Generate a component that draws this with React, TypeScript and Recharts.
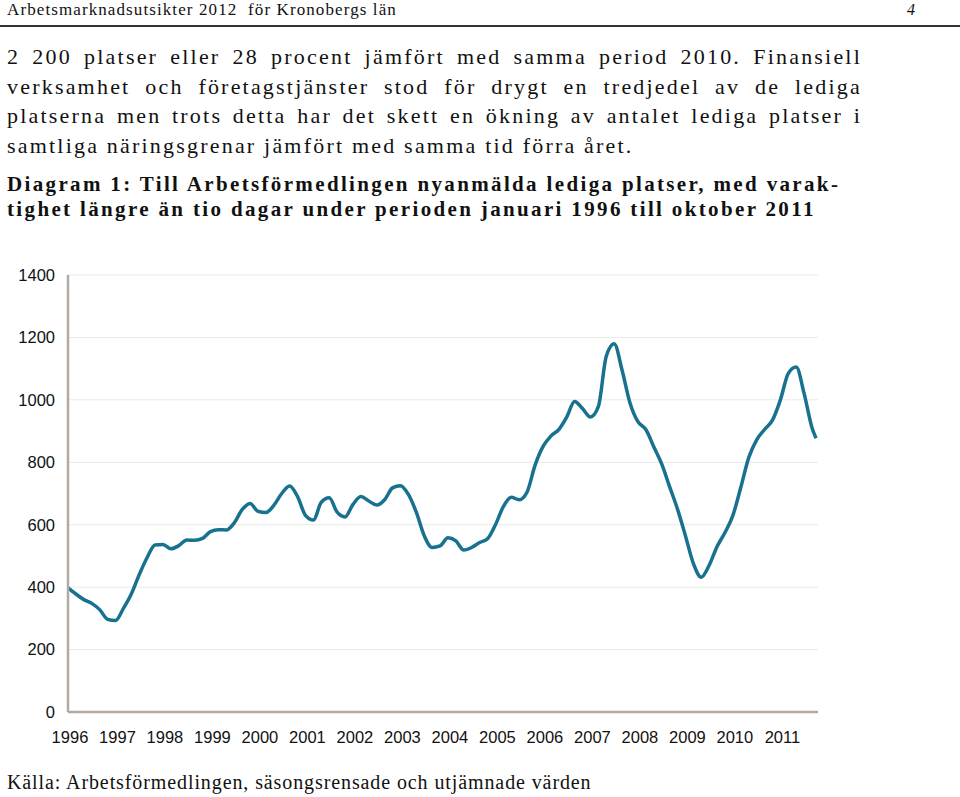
import { LineChart, Line, XAxis, YAxis, CartesianGrid } from 'recharts';

// bimonthly readings, Jan 1996 .. Oct 2011
const periods = [
  '1996-01', '1996-03', '1996-05', '1996-07', '1996-09', '1996-11',
  '1997-01', '1997-03', '1997-05', '1997-07', '1997-09', '1997-11',
  '1998-01', '1998-03', '1998-05', '1998-07', '1998-09', '1998-11',
  '1999-01', '1999-03', '1999-05', '1999-07', '1999-09', '1999-11',
  '2000-01', '2000-03', '2000-05', '2000-07', '2000-09', '2000-11',
  '2001-01', '2001-03', '2001-05', '2001-07', '2001-09', '2001-11',
  '2002-01', '2002-03', '2002-05', '2002-07', '2002-09', '2002-11',
  '2003-01', '2003-03', '2003-05', '2003-07', '2003-09', '2003-11',
  '2004-01', '2004-03', '2004-05', '2004-07', '2004-09', '2004-11',
  '2005-01', '2005-03', '2005-05', '2005-07', '2005-09', '2005-11',
  '2006-01', '2006-03', '2006-05', '2006-07', '2006-09', '2006-11',
  '2007-01', '2007-03', '2007-05', '2007-07', '2007-09', '2007-11',
  '2008-01', '2008-03', '2008-05', '2008-07', '2008-09', '2008-11',
  '2009-01', '2009-03', '2009-05', '2009-07', '2009-09', '2009-11',
  '2010-01', '2010-03', '2010-05', '2010-07', '2010-09', '2010-11',
  '2011-01', '2011-03', '2011-05', '2011-07', '2011-09', '2011-10',
];

const vacancies = [
  398, 378, 360, 348, 328, 297,
  293, 332, 378, 440, 495, 535,
  537, 523, 533, 551, 550, 556,
  578, 584, 583, 606, 648, 668,
  643, 639, 662, 700, 724, 690,
  630, 615, 672, 686, 640, 625,
  665, 690, 676, 663, 680, 718,
  725, 697, 640, 565, 527, 532,
  558, 548, 519, 527, 543, 555,
  600, 658, 688, 680, 705, 790,
  850, 884, 905, 945, 995, 972,
  945, 978, 1140, 1180, 1095, 990,
  930, 905, 850, 795, 722, 650,
  565, 476, 432, 470, 530, 575,
  630, 720, 815, 872, 905, 935,
  1000, 1085, 1105, 1020, 910, 877,
];

const years = [1996, 1997, 1998, 1999, 2000, 2001, 2002, 2003, 2004, 2005, 2006, 2007, 2008, 2009, 2010, 2011];
const yTicks = [0, 200, 400, 600, 800, 1000, 1200, 1400];

const paragraph = [
  '2 200 platser eller 28 procent jämfört med samma period 2010. Finansiell',
  'verksamhet och företagstjänster stod för drygt en tredjedel av de lediga',
  'platserna men trots detta har det skett en ökning av antalet lediga platser i',
];
const paragraphLast = 'samtliga näringsgrenar jämfört med samma tid förra året.';
const caption = [
  'Diagram 1: Till Arbetsförmedlingen nyanmälda lediga platser, med varak-',
  'tighet längre än tio dagar under perioden januari 1996 till oktober 2011',
];

const data = periods.map((p, i) => {
  const [y, m] = p.split('-').map(Number);
  return { t: (y - 1996) * 12 + (m - 1), value: vacancies[i] };
});

const serif = '"Liberation Serif", serif';
const sans = '"Liberation Sans", Arial, sans-serif';
const axisColor = '#b2aaa2';

export default function App() {
  return (
    <div style={{ position: 'absolute', left: 0, top: 0, width: 960, height: 797, background: '#fff', color: '#111', fontFamily: serif, overflow: 'hidden' }}>
      <div style={{ position: 'absolute', left: 7, top: 0, fontSize: 17, lineHeight: '20px', letterSpacing: 1.1 }}>
        Arbetsmarknadsutsikter 2012&nbsp; för Kronobergs län
      </div>
      <div style={{ position: 'absolute', left: 907, top: 0, fontSize: 16, lineHeight: '20px', fontStyle: 'italic' }}>4</div>
      <div style={{ position: 'absolute', left: 0, top: 25, width: 960, height: 2, background: '#333' }} />

      <div style={{ position: 'absolute', left: 7, top: 42, width: 855, fontSize: 22, lineHeight: '29.7px', letterSpacing: 2.2 }}>
        {paragraph.map((line) => (
          <div key={line} style={{ textAlign: 'justify', textAlignLast: 'justify' }}>{line}</div>
        ))}
        <div>{paragraphLast}</div>
      </div>

      <div style={{ position: 'absolute', left: 7, top: 172, fontSize: 21, lineHeight: '25px', fontWeight: 'bold', letterSpacing: 2.35 }}>
        {caption.map((line) => (
          <div key={line}>{line}</div>
        ))}
      </div>

      <div style={{ position: 'absolute', left: 0, top: 265 }}>
        <LineChart width={828} height={487} data={data} margin={{ top: 10, right: 10, bottom: 0, left: 8 }}>
          <CartesianGrid horizontal vertical={false} stroke="#e9e9e9" strokeWidth={1} />
          <XAxis
            dataKey="t"
            type="number"
            domain={[0, 189.5]}
            ticks={years.map((y) => (y - 1996) * 12 + 0.5)}
            tickFormatter={(v: number) => String(1996 + Math.floor(v / 12))}
            interval={0}
            tickLine={false}
            tickMargin={13}
            height={40}
            axisLine={{ stroke: axisColor, strokeWidth: 2.5 }}
            tick={{ fill: '#111', fontSize: 16.5, fontFamily: sans }}
          />
          <YAxis
            domain={[0, 1400]}
            ticks={yTicks}
            interval={0}
            tickLine={false}
            tickMargin={7}
            width={60}
            axisLine={{ stroke: axisColor, strokeWidth: 2.5 }}
            tick={{ fill: '#111', fontSize: 16.5, fontFamily: sans }}
          />
          <Line
            type="monotone"
            dataKey="value"
            stroke="#17718f"
            strokeWidth={3.5}
            dot={false}
            isAnimationActive={false}
          />
        </LineChart>
      </div>

      <div style={{ position: 'absolute', left: 7, top: 770, fontSize: 20, lineHeight: '24px', letterSpacing: 0.9 }}>
        Källa: Arbetsförmedlingen, säsongsrensade och utjämnade värden
      </div>
    </div>
  );
}
